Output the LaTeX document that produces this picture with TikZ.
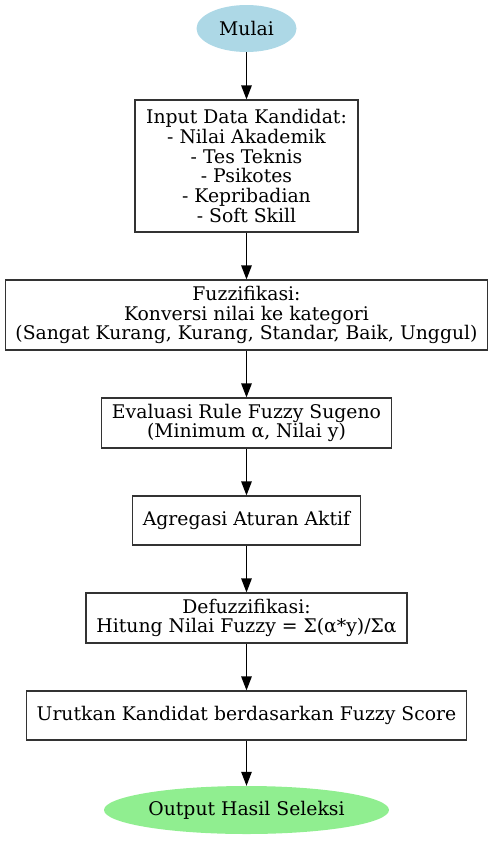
\documentclass[tikz,border=0pt]{standalone}
\usepackage{fontspec}
\setmainfont{DejaVu Serif}
\usetikzlibrary{shapes.geometric,arrows.meta}

\definecolor{startblue}{HTML}{ADD8E6}
\definecolor{endgreen}{HTML}{90EE90}
\definecolor{boxline}{HTML}{333333}

\begin{document}
\begin{tikzpicture}[
		x=1pt, y=1pt,
		every node/.style={align=center, font=\fontsize{18.8}{19.7}\selectfont, inner sep=0pt},
		stepbox/.style={rectangle, draw=boxline, line width=1.2pt},
		terminal/.style={ellipse, draw=none},
		flow/.style={-{Triangle[length=14pt,width=10.5pt]}, line width=1.2pt}
	]
  \useasboundingbox (0,0) rectangle (493,-841);
  \node (start) [terminal, fill=startblue, minimum width=100, minimum height=47] at (246.5,-28.5) {Mulai};
  \node (input) [stepbox, minimum width=223, minimum height=132] at (246.5,-166) {Input Data Kandidat:\\- Nilai Akademik\\- Tes Teknis\\- Psikotes\\- Kepribadian\\- Soft Skill};
  \node (fuzz) [stepbox, minimum width=482, minimum height=70] at (246.5,-315) {Fuzzifikasi:\\Konversi nilai ke kategori\\(Sangat Kurang, Kurang, Standar, Baik, Unggul)};
  \node (rule) [stepbox, minimum width=290, minimum height=50] at (246.5,-423) {Evaluasi Rule Fuzzy Sugeno\\(Minimum α, Nilai y)};
  \node (agr) [stepbox, minimum width=228, minimum height=49] at (246.5,-520.5) {Agregasi Aturan Aktif};
  \node (defuzz) [stepbox, minimum width=321, minimum height=50] at (246.5,-618) {Defuzzifikasi:\\Hitung Nilai Fuzzy = Σ(α*y)/Σα};
  \node (rank) [stepbox, minimum width=440, minimum height=49] at (246.5,-715.5) {Urutkan Kandidat berdasarkan Fuzzy Score};
  \node (out) [terminal, fill=endgreen, minimum width=285, minimum height=48] at (246.5,-810) {Output Hasil Seleksi};
  \draw [flow] (start) -- (input);
  \draw [flow] (input) -- (fuzz);
  \draw [flow] (fuzz) -- (rule);
  \draw [flow] (rule) -- (agr);
  \draw [flow] (agr) -- (defuzz);
  \draw [flow] (defuzz) -- (rank);
  \draw [flow] (rank) -- (out);
\end{tikzpicture}
\end{document}
